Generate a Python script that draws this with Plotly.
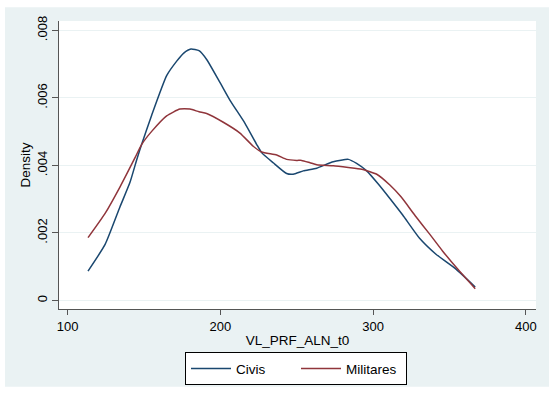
import plotly.graph_objects as go

# Civis (kernel density)
civis_x = [113.3, 124.5, 134.2, 140.8, 145.6, 148.4, 155.0, 164.8, 171.4, 176.0, 180.7, 186.0,
           191.0, 199.7, 206.3, 216.1, 223.8, 227.0, 234.6, 243.4, 247.7, 254.3, 263.1, 273.9,
           283.8, 289.2, 295.8, 303.4, 311.0, 319.4, 330.3, 341.2, 354.3, 366.9]
civis_y = [0.00087, 0.00166, 0.00277, 0.00350, 0.00423, 0.00462, 0.00549, 0.00666, 0.00709, 0.00733,
           0.00745, 0.00740, 0.00714, 0.00646, 0.00593, 0.00525, 0.00462, 0.00438, 0.00408, 0.00376,
           0.00374, 0.00384, 0.00392, 0.00411, 0.00418, 0.00406, 0.00384, 0.00345, 0.00302, 0.00253,
           0.00185, 0.00137, 0.00093, 0.00040]

# Militares (kernel density)
mil_x = [113.3, 124.5, 134.2, 144.1, 148.4, 155.0, 164.8, 173.5, 180.1, 186.0, 191.0, 201.9,
         212.8, 221.5, 227.0, 236.9, 243.4, 250.0, 253.2, 258.7, 263.1, 273.9, 283.8, 292.5,
         302.4, 311.0, 318.3, 328.1, 336.8, 345.6, 355.4, 366.9]
mil_y = [0.00186, 0.00258, 0.00336, 0.00423, 0.00462, 0.00501, 0.00547, 0.00567, 0.00567, 0.00559,
         0.00554, 0.00528, 0.00496, 0.00457, 0.00440, 0.00431, 0.00418, 0.00415, 0.00415, 0.00408,
         0.00402, 0.00399, 0.00394, 0.00389, 0.00374, 0.00342, 0.00307, 0.00248, 0.00198, 0.00146,
         0.00093, 0.00035]

x_ticks = [100, 200, 300, 400]
y_ticks = [0, 0.002, 0.004, 0.006, 0.008]
y_ticklabels = ["0", ".002", ".004", ".006", ".008"]

BG = "#eaf2f3"
AX = "#555555"

fig = go.Figure()
fig.add_trace(go.Scatter(x=civis_x, y=civis_y, mode="lines", name="Civis",
                         line=dict(color="#1a476f", width=1.5, shape="spline", smoothing=0.5)))
fig.add_trace(go.Scatter(x=mil_x, y=mil_y, mode="lines", name="Militares",
                         line=dict(color="#90353b", width=1.5, shape="spline", smoothing=0.5)))

W, H = 552, 397
L, R, T, B = 59, 16, 21, 83
pw, ph = W - L - R, H - T - B

def px_to_paper_x(p):
    return (p - L) / pw

def px_to_paper_y(p):
    return (H - B - p) / ph

fig.add_shape(type="rect", xref="paper", yref="paper", layer="below",
              x0=px_to_paper_x(5), x1=px_to_paper_x(549),
              y0=px_to_paper_y(393), y1=px_to_paper_y(7),
              fillcolor=BG, line=dict(width=0))
fig.add_shape(type="rect", xref="paper", yref="paper", layer="below",
              x0=0, x1=1, y0=0, y1=1, fillcolor="white", line=dict(width=0))

fig.update_layout(
    width=W, height=H,
    margin=dict(l=L, r=R, t=T, b=B, pad=0),
    paper_bgcolor="white", plot_bgcolor="white",
    font=dict(family="Liberation Sans, Arial, sans-serif", size=13, color="black"),
    showlegend=True,
    legend=dict(orientation="h", x=px_to_paper_x(296), xanchor="center",
                y=px_to_paper_y(358), yanchor="top",
                bgcolor="white", bordercolor="black", borderwidth=1,
                font=dict(size=13.5), entrywidth=55, itemwidth=40),
    xaxis=dict(range=[94.3, 406.7], tickvals=x_ticks, ticks="outside", ticklen=5,
               tickcolor=AX, showline=True, linecolor=AX, linewidth=1.3,
               showgrid=False, zeroline=False, tickfont=dict(size=13),
               title=dict(text="VL_PRF_ALN_t0", standoff=2, font=dict(size=13.5))),
    yaxis=dict(range=[-0.000253, 0.00828], tickvals=y_ticks, ticktext=y_ticklabels,
               tickangle=-90, ticks="outside", ticklen=6, tickcolor=AX,
               showline=True, linecolor=AX, linewidth=1.3, tickfont=dict(size=13),
               showgrid=True, gridcolor=BG, gridwidth=1, zeroline=False,
               title=dict(text="Density", standoff=0, font=dict(size=13.5))),
)

fig.write_html("out.html")
